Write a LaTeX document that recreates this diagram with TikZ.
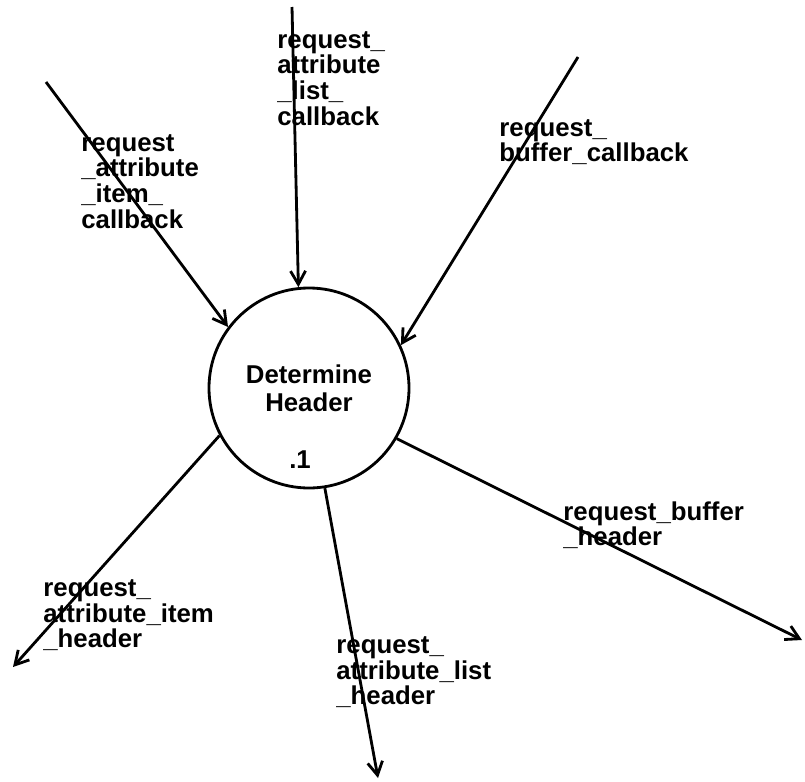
\documentclass[tikz,border=0pt]{standalone}
\usepackage{fontspec}
\setmainfont{Liberation Sans}
\usetikzlibrary{arrows.meta}
\begin{document}
\begin{tikzpicture}[x=0.03cm,y=-0.03cm,line width=2.4pt,
  flow/.style={-{Straight Barb[length=4mm,width=4.5mm]}},
  lbl/.style={anchor=north west,inner sep=0pt,align=left,
    font=\fontsize{22}{22}\selectfont\bfseries},
  bubble/.style={circle,draw,minimum size=6cm,inner sep=0pt,align=center,
    font=\fontsize{22}{24}\selectfont\bfseries}]
  \useasboundingbox (0,0) rectangle (805,782);
  % Process bubble and its number.
  \node[bubble] (hdr) at (309,388) {Determine\\Header};
  \node[font=\fontsize{22}{22}\selectfont\bfseries] (hdrnum) at (300,460) {.1};
  % Free ends of the flows.
  \coordinate (itemcb) at (46,82);
  \coordinate (listcb) at (292,7);
  \coordinate (bufcb) at (578,57);
  \coordinate (itemhd) at (13,667);
  \coordinate (listhd) at (378,778);
  \coordinate (bufhd) at (802,640);
  % Incoming callbacks.
  \draw[flow] (itemcb) -- (hdr.143.8);
  \draw[flow] (listcb) -- (hdr.96.5);
  \draw[flow] (bufcb) -- (hdr.25.8);
  % Outgoing headers.
  \draw[flow] (hdr.208.3) -- (itemhd);
  \draw[flow] (hdr.279.2) -- (listhd);
  \draw[flow] (hdr.330.4) -- (bufhd);
  % Flow labels.
  \node[lbl] (itemcblbl) at (80,133) {request\\\_attribute\\\_item\_\\callback};
  \node[lbl] (listcblbl) at (276,30) {request\_\\attribute\\\_list\_\\callback};
  \node[lbl] (bufcblbl) at (498,118) {request\_\\buffer\_callback};
  \node[lbl] (itemhdlbl) at (42,578) {request\_\\attribute\_item\\\_header};
  \node[lbl] (listhdlbl) at (335,635) {request\_\\attribute\_list\\\_header};
  \node[lbl] (bufhdlbl) at (562,500) {request\_buffer\\\_header};
\end{tikzpicture}
\end{document}
